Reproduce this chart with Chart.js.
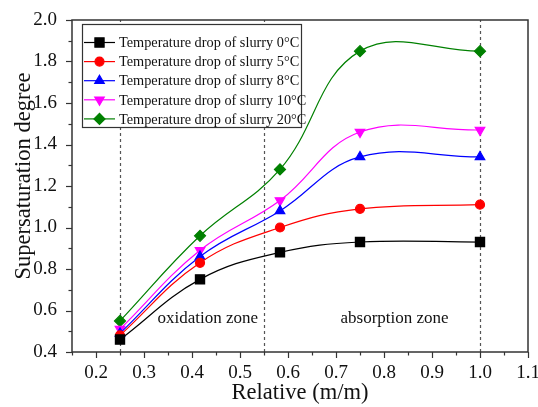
<!DOCTYPE html>
<html>
<head>
<meta charset="utf-8">
<script src="https://cdn.jsdelivr.net/npm/chart.js@4/dist/chart.umd.min.js"></script>
<style>
  html, body { margin: 0; padding: 0; background: #fff; }
  #wrap { width: 538px; height: 407px; position: relative; }
</style>
</head>
<body>
<div id="wrap"><canvas id="c"></canvas></div>
<script>
// --- DATA ---
const positions = [0.25, 0.4167, 0.5833, 0.75, 1.0];
const drop0 = [0.46, 0.75, 0.88, 0.93, 0.93];
const drop5 = [0.48, 0.83, 1.00, 1.09, 1.11];
const drop8 = [0.49, 0.86, 1.08, 1.34, 1.34];
const drop10 = [0.51, 0.89, 1.13, 1.46, 1.47];
const drop20 = [0.55, 0.96, 1.28, 1.85, 1.85];
const seriesLabels = [
    'Temperature drop of slurry 0°C',
    'Temperature drop of slurry 5°C',
    'Temperature drop of slurry 8°C',
    'Temperature drop of slurry 10°C',
    'Temperature drop of slurry 20°C'
];
const xTicks = [0.2, 0.3, 0.4, 0.5, 0.6, 0.7, 0.8, 0.9, 1.0, 1.1];
const yTicks = [0.4, 0.6, 0.8, 1.0, 1.2, 1.4, 1.6, 1.8, 2.0];
const zoneLines = [0.25, 0.55, 1.0];
const zoneLabels = [
    { text: 'oxidation zone', x: 0.433, y: 0.56 },
    { text: 'absorption zone', x: 0.822, y: 0.56 }
];
const yTitle = 'Supersaturation degree';

const SERIF = '"Liberation Serif", "DejaVu Serif", serif';

function makeSet(label, values, color, style, radius, rotation) {
    return {
        label: label,
        data: positions.map((x, i) => ({ x: x, y: values[i] })),
        borderColor: color,
        backgroundColor: color,
        borderWidth: 1.2,
        pointStyle: style,
        pointRotation: rotation || 0,
        pointRadius: radius,
        pointHoverRadius: radius,
        tension: 0.4
    };
}

// --- PLUGIN: frame, ticks, zone lines, legend ---
const decorations = {
    id: 'decorations',
    beforeDatasetsDraw(chart) {
        const { ctx, chartArea: a, scales: { x, y } } = chart;
        ctx.save();
        ctx.strokeStyle = '#555';
        ctx.lineWidth = 1.2;
        ctx.setLineDash([3, 3]);
        zoneLines.forEach(v => {
            const px = Math.round(x.getPixelForValue(v)) + 0.5;
            ctx.beginPath();
            ctx.moveTo(px, a.bottom);
            ctx.lineTo(px, a.top);
            ctx.stroke();
        });
        ctx.setLineDash([]);
        ctx.fillStyle = '#111';
        ctx.font = '17px ' + SERIF;
        ctx.textAlign = 'center';
        ctx.textBaseline = 'middle';
        zoneLabels.forEach(z => {
            ctx.fillText(z.text, x.getPixelForValue(z.x), y.getPixelForValue(z.y));
        });
        ctx.restore();
    },
    afterDraw(chart) {
        const { ctx, chartArea: a, scales: { x, y } } = chart;
        ctx.save();
        ctx.strokeStyle = '#333';
        ctx.lineWidth = 1.5;
        ctx.strokeRect(a.left, a.top, a.right - a.left, a.bottom - a.top);

        // x ticks
        ctx.lineWidth = 1.2;
        for (let i = 0; i <= 19; i++) {
            const v = 0.15 + i * 0.05;
            if (v > 1.1001) break;
            const major = i % 2 === 1;
            const px = Math.round(x.getPixelForValue(v)) + 0.5;
            ctx.beginPath();
            ctx.moveTo(px, a.bottom);
            ctx.lineTo(px, a.bottom + (major ? 6 : 3.5));
            ctx.stroke();
        }
        // y ticks
        for (let i = 0; i <= 16; i++) {
            const v = 0.4 + i * 0.1;
            const major = i % 2 === 0;
            const py = Math.round(y.getPixelForValue(v)) + 0.5;
            ctx.beginPath();
            ctx.moveTo(a.left, py);
            ctx.lineTo(a.left - (major ? 6 : 3.5), py);
            ctx.stroke();
        }

        // y title
        ctx.fillStyle = '#111';
        ctx.font = '22.5px ' + SERIF;
        ctx.textAlign = 'center';
        ctx.textBaseline = 'middle';
        ctx.translate(24, 176);
        ctx.rotate(-Math.PI / 2);
        ctx.fillText(yTitle, 0, 0);
        ctx.setTransform(1, 0, 0, 1, 0, 0);

        // legend
        const lx = 82, ly = 24, lw = 219, lh = 103;
        ctx.fillStyle = '#fff';
        ctx.fillRect(lx, ly, lw, lh);
        ctx.strokeStyle = '#333';
        ctx.lineWidth = 1.2;
        ctx.strokeRect(lx + 0.5, ly + 0.5, lw, lh);
        ctx.font = '14.3px ' + SERIF;
        ctx.textAlign = 'left';
        ctx.textBaseline = 'middle';
        chart.data.datasets.forEach((ds, i) => {
            const ry = 42.5 + i * 19.1;
            ctx.strokeStyle = ds.borderColor;
            ctx.lineWidth = 1.2;
            ctx.beginPath();
            ctx.moveTo(84, ry);
            ctx.lineTo(115, ry);
            ctx.stroke();
            ctx.fillStyle = ds.backgroundColor;
            Chart.helpers.drawPoint(ctx, {
                pointStyle: ds.pointStyle,
                rotation: ds.pointRotation,
                radius: ds.pointRadius,
                borderWidth: 1
            }, 99.5, ry);
            ctx.fillStyle = '#111';
            ctx.fillText(ds.label, 119, ry + 1);
        });
        ctx.restore();
    }
};

// --- CHART ---
new Chart(document.getElementById('c'), {
    type: 'line',
    data: {
        datasets: [
            makeSet(seriesLabels[0], drop0, '#000000', 'rect', 6.5),
            makeSet(seriesLabels[1], drop5, '#ff0000', 'circle', 4.5),
            makeSet(seriesLabels[2], drop8, '#0000ff', 'triangle', 5.5),
            makeSet(seriesLabels[3], drop10, '#ff00ff', 'triangle', 5.5, 180),
            makeSet(seriesLabels[4], drop20, '#008000', 'rectRot', 5.5)
        ]
    },
    options: {
        responsive: true,
        maintainAspectRatio: false,
        animation: false,
        layout: { padding: { top: 20, right: 10, left: 0, bottom: 0 } },
        plugins: {
            legend: { display: false },
            tooltip: { enabled: false }
        },
        scales: {
            x: {
                type: 'linear',
                min: 0.15,
                max: 1.1,
                grid: { display: false },
                border: { display: false },
                afterBuildTicks: s => { s.ticks = xTicks.map(v => ({ value: v })); },
                afterFit: s => { s.height = 55; s.paddingLeft = 0; s.paddingRight = 0; },
                ticks: {
                    color: '#111',
                    padding: 2,
                    maxRotation: 0,
                    font: { family: SERIF, size: 19 },
                    callback: v => v.toFixed(1)
                },
                title: {
                    display: true,
                    text: 'Relative (m/m)',
                    color: '#111',
                    padding: { top: 0, bottom: 0 },
                    font: { family: SERIF, size: 22.5 }
                }
            },
            y: {
                min: 0.4,
                max: 2.0,
                grid: { display: false },
                border: { display: false },
                afterBuildTicks: s => { s.ticks = yTicks.map(v => ({ value: v })); },
                afterFit: s => { s.width = 72; s.paddingTop = 0; s.paddingBottom = 0; },
                ticks: {
                    color: '#111',
                    padding: 7,
                    font: { family: SERIF, size: 19 },
                    callback: v => v.toFixed(1)
                }
            }
        }
    },
    plugins: [decorations]
});
</script>
</body>
</html>
